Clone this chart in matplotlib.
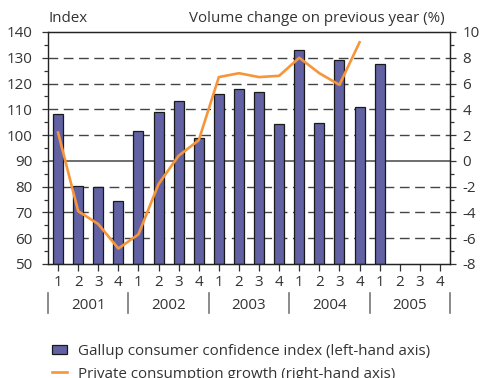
import numpy as np
import matplotlib
matplotlib.use("Agg")
import matplotlib.pyplot as plt
from matplotlib.patches import Patch
from matplotlib.lines import Line2D
import matplotlib.transforms as mtransforms

plt.rcParams['font.family'] = ['Open Sans', 'DejaVu Sans']
plt.rcParams['axes.unicode_minus'] = False

# Quarterly data, 2001 Q1 - 2005 Q4
years = ["2001", "2002", "2003", "2004", "2005"]
quarters = ["1", "2", "3", "4"]
confidence = [108.2, 80.4, 79.7, 74.4,
              101.6, 108.9, 113.4, 98.8,
              115.8, 117.8, 116.9, 104.2,
              133.0, 104.7, 129.3, 110.9,
              127.6]
consumption = [2.2, -3.9, -4.9, -6.8,
               -5.7, -1.8, 0.4, 1.6,
               6.5, 6.8, 6.5, 6.6,
               8.0, 6.8, 5.9, 9.2]

bar_color = '#6261a3'
line_color = '#f7953a'
text_color = '#333333'
fs = 10.9

fig = plt.figure(figsize=(4.8, 3.78), dpi=100)
ax = fig.add_axes([0.1, 0.3016, 0.8375, 0.6138])
ax2 = ax.twinx()

n_q = len(years) * len(quarters)
x_bar = np.arange(len(confidence)) + 0.5
x_line = np.arange(len(consumption)) + 0.5

# grid on the left axis, zero line of the right axis at 90
for v in [60, 70, 80, 100, 110, 120, 130]:
    ax.axhline(v, color='#444444', lw=1, ls=(0, (7, 4)), zorder=1)
ax.axhline(90, color='#555555', lw=1.2, zorder=1)

ax.bar(x_bar, [c - 50 for c in confidence], bottom=50, width=0.5,
       color=bar_color, edgecolor='#1a1a1a', linewidth=0.9, zorder=2)
ax2.plot(x_line, consumption, color=line_color, lw=1.9, zorder=3)

ax.set_xlim(0, n_q)
ax.set_ylim(50, 140)
ax2.set_ylim(-8, 10)

ax.set_yticks(np.arange(50, 141, 10))
ax.set_yticks(np.arange(55, 140, 10), minor=True)
ax2.set_yticks(np.arange(-8, 11, 2))
ax2.set_yticks(np.arange(-7, 10, 2), minor=True)
ax.set_xticks(np.arange(n_q) + 0.5)
ax.set_xticklabels(quarters * len(years))

for a in (ax, ax2):
    for s in a.spines.values():
        s.set_color('#222222')
        s.set_linewidth(0.9)
ax.spines['left'].set_color('#777777')

ax.tick_params(axis='y', which='major', length=4, width=0.9, color='#333333',
               labelsize=fs, labelcolor=text_color, pad=7)
ax.tick_params(axis='y', which='minor', length=3, width=0.9, color='#333333')
ax2.tick_params(axis='y', which='major', length=4, width=0.9, color='#333333',
                labelsize=fs, labelcolor=text_color, pad=5)
ax2.tick_params(axis='y', which='minor', length=3, width=0.9, color='#333333')
ax.tick_params(axis='x', length=5, width=0.9, color='#333333',
               labelsize=fs, labelcolor=text_color, pad=3)

# year labels and separators under the quarter numbers
trans = mtransforms.blended_transform_factory(ax.transData, ax.transAxes)
for i, yr in enumerate(years):
    ax.text(i * 4 + 2, -0.178, yr, transform=trans, ha='center', va='center',
            fontsize=fs, color=text_color)
for b in range(0, n_q + 1, 4):
    ax.add_line(Line2D([b, b], [-0.125, -0.212], transform=trans,
                       color='#777777', lw=1.2, clip_on=False))

fig.text(0.1, 0.952, "Index", ha='left', va='center', fontsize=fs,
         color=text_color)
fig.text(0.927, 0.952, "Volume change on previous year (%)", ha='right',
         va='center', fontsize=fs, color=text_color)

handles = [Patch(facecolor=bar_color, edgecolor='#1a1a1a', linewidth=0.9),
           Line2D([], [], color=line_color, lw=1.9)]
labels = ["Gallup consumer confidence index (left-hand axis)",
          "Private consumption growth (right-hand axis)"]
fig.legend(handles, labels, loc='upper left', bbox_to_anchor=(0.108, 0.09),
           frameon=False, fontsize=fs, labelcolor=text_color,
           handlelength=1.0, handleheight=0.6, handletextpad=0.75,
           labelspacing=0.5, borderaxespad=0, borderpad=0)

fig.savefig("out.png", dpi=100)
